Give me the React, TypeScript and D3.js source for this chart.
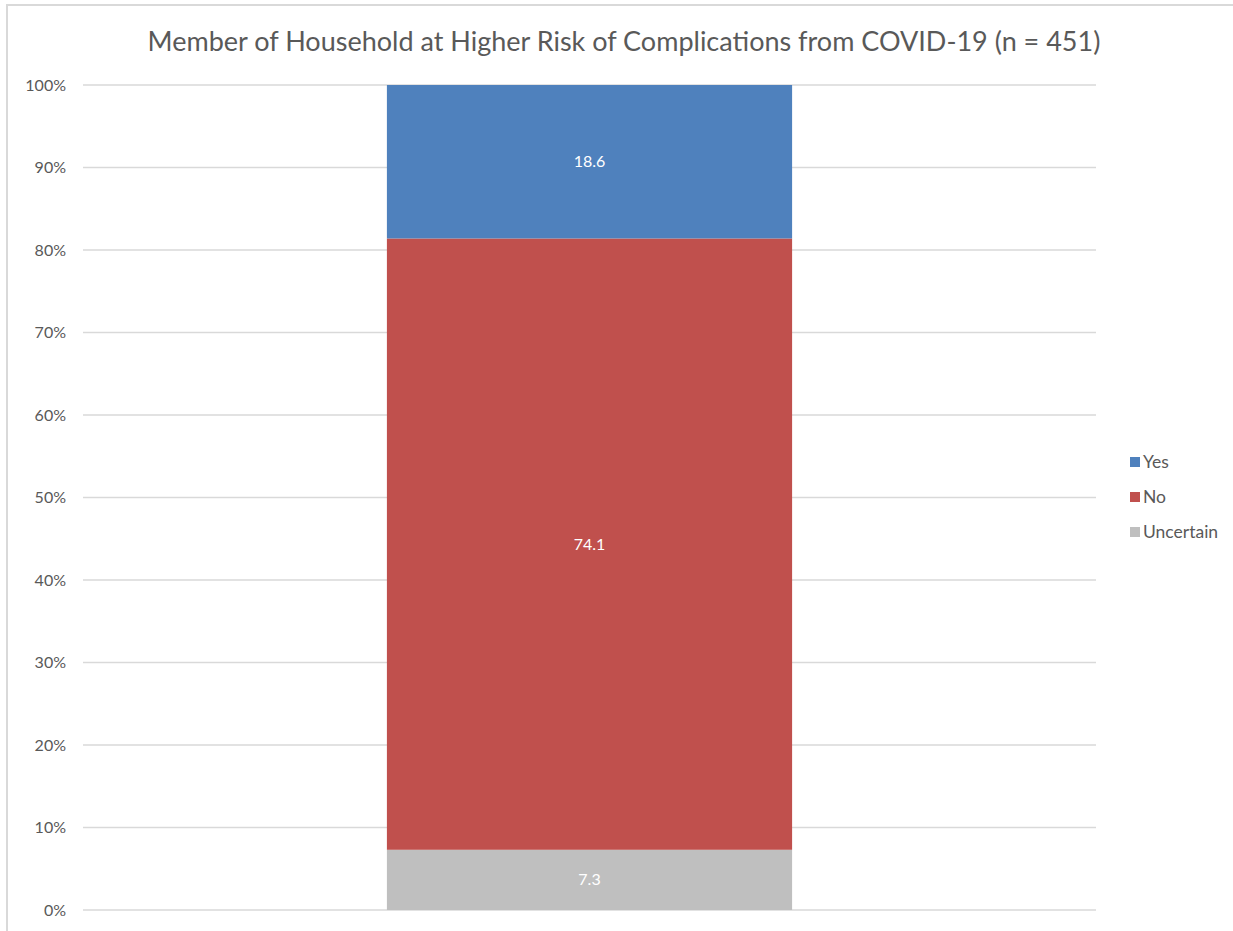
import React from "react";
import * as d3 from "d3";

const title = "Member of Household at Higher Risk of Complications from COVID-19 (n = 451)";
const categories = ["Member of Household"];
const seriesNames = ["Uncertain", "No", "Yes"];
const seriesValues = [7.3, 74.1, 18.6];
const seriesColors = ["#BFBFBF", "#C0504D", "#4F81BD"];
const legendOrder = ["Yes", "No", "Uncertain"];
const yTicks = [0, 10, 20, 30, 40, 50, 60, 70, 80, 90, 100];

const W = 1233;
const H = 931;
const font = "Lato, 'Open Sans', sans-serif";

export default function App() {
  const margin = { left: 83, right: 1096, top: 85, bottom: 910 };
  const y = d3.scaleLinear().domain([0, 100]).range([margin.bottom, margin.top]);
  const x = d3
    .scaleBand()
    .domain(categories)
    .range([margin.left, margin.right])
    .paddingInner(0)
    .paddingOuter(0.75);
  const stackData = [Object.fromEntries(seriesNames.map((s, i) => [s, seriesValues[i]]))];
  const stack = d3.stack<any>().keys(seriesNames)(stackData as any);
  const colorOf = (name: string) => seriesColors[seriesNames.indexOf(name)];

  return (
    <svg
      width={W}
      height={H}
      style={{ position: "absolute", left: 0, top: 0, background: "#fff" }}
      fontFamily={font}
    >
      <rect x={7} y={5} width={W + 10} height={H + 10} fill="#fff" stroke="#D9D9D9" strokeWidth={2} />
      <text x={624} y={51} textAnchor="middle" fontSize={27} fill="#595959">
        {title}
      </text>
      {yTicks.map((t) => (
        <g key={t}>
          <line x1={margin.left} x2={margin.right} y1={y(t)} y2={y(t)} stroke="#D9D9D9" strokeWidth={1.5} />
          <text x={66} y={y(t) + 5.5} textAnchor="end" fontSize={16} fill="#595959">
            {t}%
          </text>
        </g>
      ))}
      {stack.map((layer) => {
        const d = layer[0];
        const x0 = x(categories[0])!;
        return (
          <g key={layer.key}>
            <rect
              x={x0}
              width={x.bandwidth()}
              y={y(d[1])}
              height={y(d[0]) - y(d[1])}
              fill={colorOf(layer.key)}
            />
            <text
              x={x0 + x.bandwidth() / 2}
              y={(y(d[0]) + y(d[1])) / 2 + 5.5}
              textAnchor="middle"
              fontSize={16}
              fill="#FFFFFF"
            >
              {(d[1] - d[0]).toFixed(1)}
            </text>
          </g>
        );
      })}
      {legendOrder.map((name, i) => {
        const ly = 462 + i * 35;
        return (
          <g key={name}>
            <rect x={1130} y={ly - 5} width={10} height={10} fill={colorOf(name)} />
            <text x={1143} y={ly + 6} fontSize={17.5} fill="#595959">
              {name}
            </text>
          </g>
        );
      })}
    </svg>
  );
}
